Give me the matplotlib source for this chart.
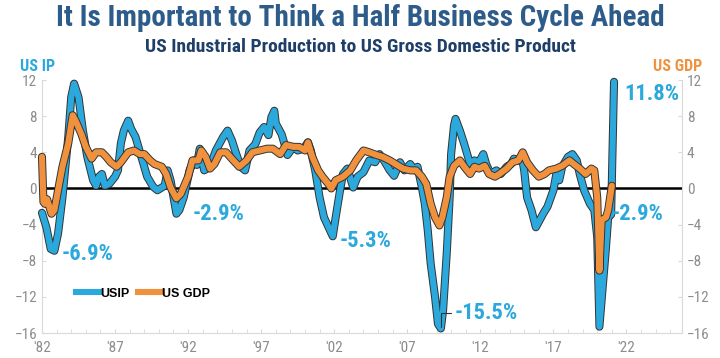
import matplotlib
matplotlib.use("Agg")
import matplotlib.pyplot as plt
import matplotlib.patheffects as pe
from matplotlib.ticker import MultipleLocator, FixedLocator

# US Industrial Production (yoy %)
ip_years = [1982.0, 1982.3, 1982.6, 1982.85, 1983.1, 1983.4, 1983.8, 1984.0, 1984.2, 1984.5,
            1984.8, 1985.1, 1985.5, 1985.7, 1985.9, 1986.1, 1986.3, 1986.6, 1987.0, 1987.2,
            1987.4, 1987.6, 1987.9, 1988.1, 1988.4, 1988.8, 1989.2, 1989.6, 1989.9, 1990.4,
            1990.6, 1990.8, 1991.2, 1991.4, 1991.7, 1992.1, 1992.4, 1992.6, 1992.8, 1993.1,
            1993.5, 1993.9, 1994.4, 1994.7, 1995.0, 1995.3, 1995.6, 1995.9, 1996.2, 1996.6,
            1996.9, 1997.2, 1997.5, 1997.7, 1997.9, 1998.0, 1998.4, 1998.6, 1998.8, 1999.2,
            1999.5, 1999.9, 2000.2, 2000.4, 2000.7, 2001.0, 2001.3, 2001.7, 2001.9, 2002.1,
            2002.4, 2002.6, 2002.9, 2003.3, 2003.6, 2004.0, 2004.4, 2004.8, 2005.1, 2005.4,
            2005.8, 2006.1, 2006.5, 2006.8, 2007.2, 2007.5, 2007.7, 2008.0, 2008.2, 2008.4,
            2008.6, 2008.9, 2009.1, 2009.3, 2009.45, 2009.7, 2009.9, 2010.0, 2010.2, 2010.3,
            2010.6, 2010.9, 2011.3, 2011.6, 2011.9, 2012.2, 2012.4, 2012.7, 2013.1, 2013.4,
            2013.8, 2014.1, 2014.3, 2014.6, 2014.85, 2015.0, 2015.2, 2015.5, 2015.8, 2016.0,
            2016.3, 2016.6, 2017.0, 2017.2, 2017.4, 2017.6, 2018.0, 2018.3, 2018.6, 2018.8,
            2019.1, 2019.5, 2019.8, 2020.0, 2020.15, 2020.3, 2020.6, 2020.75, 2020.95, 2021.15]
ip_values = [-2.7, -4.3, -6.7, -6.9, -5.0, -1.0, 5.7, 10.1, 11.6, 10.1,
             6.4, 3.5, 0.9, 0.3, 1.3, 1.6, 0.3, 0.5, 1.3, 2.0,
             5.0, 6.4, 7.5, 6.6, 5.7, 3.5, 1.3, 0.2, -0.2, 0.3,
             2.0, 0.9, -2.8, -2.4, -1.0, 2.0, 3.1, 2.6, 4.4, 2.0,
             2.4, 4.2, 5.7, 6.4, 5.3, 3.8, 2.4, 2.0, 4.2, 4.9,
             6.2, 6.8, 5.9, 7.9, 8.6, 7.2, 6.0, 4.9, 3.7, 4.6,
             4.2, 4.4, 5.1, 4.2, 2.0, -1.0, -3.2, -4.6, -5.3, -3.2,
             -0.2, 1.6, 2.2, 0.1, 1.3, 1.8, 3.1, 2.9, 3.8, 3.1,
             2.0, 1.4, 2.9, 2.0, 2.7, 2.0, 2.4, 0.1, -1.7, -4.6,
             -8.3, -12.0, -15.0, -15.5, -13.5, -7.2, -1.0, 3.8, 7.0, 7.7,
             6.4, 4.9, 2.7, 3.1, 2.9, 3.8, 2.7, 1.6, 2.0, 1.6,
             2.4, 2.7, 3.3, 3.1, 3.4, 2.0, -1.0, -2.4, -4.3, -3.7,
             -2.8, -2.0, -0.2, 1.6, 0.9, 2.4, 3.5, 3.8, 3.1, 1.6,
             -0.2, -1.7, -2.4, -5.4, -15.3, -12.4, -6.5, -3.2, -2.9, 11.8]

# US real GDP (yoy %)
gdp_years = [1982.0, 1982.1, 1982.2, 1982.35, 1982.5, 1982.65, 1982.85, 1983.1, 1983.4, 1983.8,
             1984.1, 1984.3, 1984.7, 1985.0, 1985.4, 1985.7, 1986.1, 1986.4, 1986.7, 1987.1,
             1987.4, 1987.9, 1988.3, 1988.7, 1989.0, 1989.4, 1989.7, 1990.2, 1990.5, 1990.8,
             1991.2, 1991.5, 1992.0, 1992.3, 1992.7, 1992.9, 1993.2, 1993.5, 1993.8, 1994.2,
             1994.6, 1995.1, 1995.5, 1996.0, 1996.4, 1996.9, 1997.4, 1997.8, 1998.3, 1998.7,
             1999.2, 1999.6, 2000.0, 2000.2, 2000.5, 2000.9, 2001.2, 2001.6, 2001.8, 2002.1,
             2002.6, 2003.1, 2003.5, 2004.0, 2004.4, 2004.9, 2005.3, 2005.8, 2006.2, 2006.7,
             2007.2, 2007.6, 2008.0, 2008.3, 2008.6, 2008.9, 2009.2, 2009.4, 2009.7, 2009.9,
             2010.2, 2010.6, 2010.9, 2011.3, 2011.6, 2011.9, 2012.3, 2012.6, 2013.0, 2013.3,
             2013.8, 2014.2, 2014.6, 2014.9, 2015.2, 2015.6, 2016.0, 2016.4, 2016.7, 2017.2,
             2017.6, 2018.1, 2018.4, 2018.8, 2019.2, 2019.6, 2019.8, 2020.0, 2020.15, 2020.3,
             2020.6, 2020.75, 2021.0]
gdp_values = [3.5, -1.5, -1.7, -1.2, -2.0, -2.8, -2.4, -0.2, 2.4, 5.0,
              8.1, 7.5, 6.0, 4.6, 3.3, 4.0, 4.0, 3.5, 2.9, 2.4,
              2.9, 4.0, 4.2, 3.8, 3.8, 3.1, 2.7, 2.4, 1.6, 0.1,
              -1.1, -0.6, 1.3, 3.1, 3.1, 4.2, 3.5, 2.2, 2.7, 4.0,
              4.0, 3.1, 2.4, 3.1, 4.0, 4.2, 4.4, 4.4, 3.8, 4.8,
              4.6, 4.6, 4.2, 5.1, 3.5, 2.0, 1.3, 0.5, 0.0, 0.9,
              1.3, 2.0, 3.1, 4.2, 4.0, 3.7, 3.5, 3.1, 2.7, 2.2,
              2.0, 2.0, 1.3, 0.5, -1.7, -3.2, -4.1, -3.2, -1.0, 1.3,
              2.5, 3.1, 2.4, 1.6, 2.4, 2.2, 2.5, 1.6, 1.3, 1.6,
              2.2, 2.9, 3.1, 4.0, 2.9, 2.0, 1.3, 1.6, 2.0, 2.2,
              2.5, 3.1, 2.7, 2.2, 1.6, 2.2, 2.0, -1.0, -9.1, -3.5,
              -3.2, -2.4, 0.3]

tick_years = [1982, 1987, 1992, 1997, 2002, 2007, 2012, 2017, 2022]
tick_labels = ["'82", "'87", "'92", "'97", "'02", "'07", "'12", "'17", "'22"]

# callouts: (text, x, y)
callouts = [("-6.9%", 1983.35, -7.3), ("-2.9%", 1992.3, -2.8), ("-5.3%", 2002.4, -5.8),
            ("-15.5%", 2010.25, -13.8), ("-2.9%", 2021.0, -2.8), ("11.8%", 2021.85, 10.4)]

blue = "#2BA8DC"
orange = "#F0913E"
narrow = ["Liberation Sans Narrow", "Arial Narrow", "Roboto Condensed", "Asap Condensed", "DejaVu Sans"]
plt.rcParams["font.family"] = narrow

fig = plt.figure(figsize=(7.2, 3.58), dpi=100)
ax = fig.add_axes([0.0583, 0.0698, 0.8889, 0.7067])

shadow = [pe.Stroke(linewidth=5.8, foreground="#333333"), pe.Normal()]
ax.plot(ip_years, ip_values, color=blue, lw=4.4, solid_capstyle="round",
        path_effects=shadow, zorder=3, clip_on=False)
ax.plot(gdp_years, gdp_values, color=orange, lw=4.4, solid_capstyle="round",
        path_effects=shadow, zorder=4, clip_on=False)
ax.axhline(0, color="black", lw=1.8, zorder=2)

ax.set_xlim(1982, 2025.8)
ax.set_ylim(-16, 12)
ax.yaxis.set_major_locator(MultipleLocator(4))
ax.xaxis.set_major_locator(FixedLocator(tick_years))
ax.xaxis.set_minor_locator(MultipleLocator(1))
ax.set_xticklabels(tick_labels)

ax.spines["top"].set_visible(False)
for s in ["left", "right", "bottom"]:
    ax.spines[s].set_color("#d9d9d9")
ax.tick_params(axis="y", which="both", left=True, right=True, labelleft=True, labelright=True,
               colors="#d9d9d9", labelcolor="#8c8c8c", labelsize=11, length=3, direction="in")
ax.tick_params(axis="x", which="both", colors="#d9d9d9", labelcolor="#8c8c8c",
               labelsize=11, length=3, direction="in", pad=6)

for txt, x, y in callouts:
    ax.text(x, y, txt, color=blue, fontsize=16.2, fontweight="bold", va="center", ha="left", zorder=5)
ax.annotate("", xy=(2009.3, -15.6), xytext=(2010.15, -13.8),
            arrowprops=dict(arrowstyle="-", color="#333333", lw=0.8,
                            connectionstyle="angle,angleA=0,angleB=90,rad=0"))

h1, = ax.plot([], [], color=blue, lw=4.4)
h2, = ax.plot([], [], color=orange, lw=4.4)
leg = ax.legend([h1, h2], ["USIP", "US GDP"], loc="center left", bbox_to_anchor=(0.035, 0.155),
                ncol=2, frameon=False, handlelength=1.9, handletextpad=0.05, columnspacing=0.7,
                prop={"weight": "bold", "size": 9, "family": ["Liberation Sans", "DejaVu Sans"]})

fig.text(0.5, 0.95, "It Is Important to Think a Half Business Cycle Ahead", ha="center",
         va="center", color="#2E5C8A", fontsize=21, fontweight="bold")
fig.text(0.5, 0.87, "US Industrial Production to US Gross Domestic Product", ha="center",
         va="center", color="#1F3F68", fontsize=14, fontweight="bold")
fig.text(0.028, 0.815, "US IP", ha="left", va="center", color=blue, fontsize=11.5,
         fontweight="bold")
fig.text(0.975, 0.815, "US GDP", ha="right", va="center", color=orange, fontsize=11.5,
         fontweight="bold")

fig.savefig("out.png", dpi=100, facecolor="white")
